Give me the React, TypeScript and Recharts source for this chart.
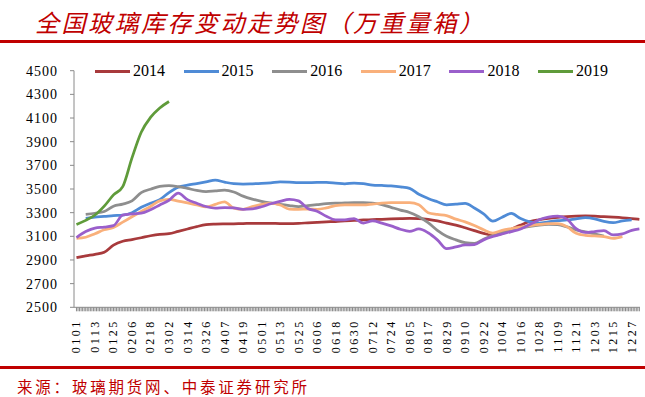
import { LineChart, Line, XAxis, YAxis } from "recharts";

// x positions: day of year, every 6 days plus year end
const days = [
    0, 6, 12, 18, 24, 30, 36, 42, 48, 54,
    60, 66, 72, 78, 84, 90, 96, 102, 108, 114,
    120, 126, 132, 138, 144, 150, 156, 162, 168, 174,
    180, 186, 192, 198, 204, 210, 216, 222, 228, 234,
    240, 246, 252, 258, 264, 270, 276, 282, 288, 294,
    300, 306, 312, 318, 324, 330, 336, 342, 348, 354,
    360, 365,
];

const tickLabels = [
    "0101", "0113", "0125", "0206", "0218", "0302", "0314", "0326", "0407", "0419",
    "0501", "0513", "0525", "0606", "0618", "0630", "0712", "0724", "0805", "0817",
    "0829", "0910", "0922", "1004", "1016", "1028", "1109", "1121", "1203", "1215",
    "1227",
];

const yTicks = [2500, 2700, 2900, 3100, 3300, 3500, 3700, 3900, 4100, 4300, 4500];

const v2014 = [
    2920, 2935, 2948, 2965, 3025, 3058, 3072, 3088, 3105, 3117,
    3122, 3142, 3162, 3182, 3198, 3203, 3205, 3206, 3208, 3209,
    3210, 3210, 3208, 3208, 3210, 3214, 3218, 3222, 3225, 3230,
    3234, 3238, 3241, 3244, 3247, 3250, 3252, 3250, 3243, 3230,
    3212, 3195, 3172, 3148, 3125, 3108, 3125, 3160, 3195, 3225,
    3240, 3252, 3260, 3266, 3270, 3272, 3270, 3266, 3262, 3257,
    3250, 3243,
];

const v2015 = [
    null, 3252, 3262, 3268, 3275, 3280, 3300, 3345, 3380, 3410,
    3470, 3515, 3533, 3546, 3560, 3575, 3558, 3545, 3542, 3544,
    3547, 3552, 3560, 3558, 3553, 3554, 3556, 3555, 3550, 3544,
    3550, 3545, 3533, 3530, 3526, 3518, 3505, 3455, 3420, 3392,
    3366, 3372, 3378, 3340, 3290, 3228, 3262, 3293, 3250, 3222,
    3212, 3222, 3232, 3238, 3248, 3257, 3248, 3226, 3215, 3230,
    3238, null,
];

const v2016 = [
    null, 3286, 3295, 3310, 3355, 3372, 3400, 3470, 3498, 3522,
    3528, 3520, 3505, 3488, 3478, 3484, 3490, 3475, 3440, 3415,
    3396, 3382, 3370, 3360, 3352, 3360, 3368, 3376, 3380, 3382,
    3384, 3384, 3380, 3368, 3345, 3322, 3302, 3265, 3215, 3150,
    3100, 3070, 3046, 3040, 3075, 3108, 3132, 3150, 3168, 3183,
    3195, 3201, 3198, 3180, 3155, 3138, 3122, 3103, null, null,
    null, null,
];

const v2017 = [
    3083, 3092, 3122, 3155, 3175, 3220, 3265, 3310, 3352, 3400,
    3413, 3398, 3383, 3365, 3348, 3370, 3392, 3338, 3328, 3352,
    3370, 3378, 3365, 3330, 3328, 3330, 3328, 3340, 3360, 3365,
    3365, 3365, 3372, 3380, 3384, 3384, 3384, 3367, 3300, 3285,
    3275, 3245, 3222, 3192, 3155, 3128, 3150, 3165, 3178, 3190,
    3200, 3207, 3208, 3182, 3125, 3108, 3103, 3098, 3083, 3098,
    null, null,
];

const v2018 = [
    3090, 3140, 3170, 3178, 3190, 3280, 3290, 3296, 3325, 3365,
    3405, 3465, 3410, 3380, 3352, 3338, 3342, 3340, 3328, 3332,
    3350, 3375, 3395, 3413, 3400, 3335, 3312, 3270, 3240, 3240,
    3250, 3212, 3230, 3212, 3188, 3160, 3142, 3162, 3130, 3070,
    2995, 3010, 3027, 3030, 3070, 3098, 3120, 3140, 3162, 3200,
    3240, 3262, 3270, 3245, 3165, 3133, 3140, 3148, 3112, 3120,
    3150, 3162,
];

const v2019 = [3200, 3235, 3280, 3355, 3450, 3520, 3763, 3980, 4105, 4185, 4240];

const series = [
    { key: "y2014", name: "2014", color: "#A83A3C", values: v2014 },
    { key: "y2015", name: "2015", color: "#4F8BD6", values: v2015 },
    { key: "y2016", name: "2016", color: "#8E8E8E", values: v2016 },
    { key: "y2017", name: "2017", color: "#F9B07B", values: v2017 },
    { key: "y2018", name: "2018", color: "#9A5FCB", values: v2018 },
    { key: "y2019", name: "2019", color: "#5F9B3A", values: v2019 },
];

const chartData = days.map((d, i) => {
    const row: Record<string, number | null> = { day: d };
    series.forEach((s) => {
        row[s.key] = s.values[i] ?? null;
    });
    return row;
});

// one tick per day, label every 12 days
const dailyTicks = Array.from({ length: 366 }, (_, i) => i);

const serif = '"Liberation Serif", "Times New Roman", serif';
const cjk = '"Noto Sans CJK SC", sans-serif';
const red = "#C00000";

const DayTick = (props: any) => {
    const { x, y, payload } = props;
    const d = payload.value as number;
    if (d % 12 !== 0) return <g />;
    const label = tickLabels[d / 12];
    return (
        <text
            x={x}
            y={y}
            transform={`rotate(-90, ${x}, ${y})`}
            textAnchor="end"
            dominantBaseline="central"
            fontFamily={serif}
            fontSize={12}
            letterSpacing={2.5}
            fill="#000"
        >
            {label}
        </text>
    );
};

export default function App() {
    return (
        <div style={{ position: "absolute", left: 0, top: 0, width: 645, height: 397, background: "#fff", overflow: "hidden" }}>
            <div
                style={{
                    position: "absolute", left: 35, top: 9, lineHeight: "26px",
                    fontFamily: cjk, fontSize: 24, fontStyle: "italic", letterSpacing: 2.5, color: red, whiteSpace: "nowrap",
                }}
            >
                全国玻璃库存变动走势图（万重量箱）
            </div>
            <div style={{ position: "absolute", left: 0, top: 39.5, width: 645, height: 3, background: red }} />

            <LineChart width={645} height={397} data={chartData} margin={{ top: 70.7, right: 5, bottom: 29.7, left: 14 }}>
                <XAxis
                    dataKey="day"
                    type="number"
                    domain={[-1.6, 365.4]}
                    allowDataOverflow
                    ticks={dailyTicks}
                    interval={0}
                    tick={<DayTick />}
                    tickSize={4}
                    tickMargin={8}
                    height={60}
                    stroke="#8A8A8A"
                    tickLine={{ stroke: "#8A8A8A" }}
                />
                <YAxis
                    domain={[2500, 4500]}
                    ticks={yTicks}
                    interval={0}
                    width={60}
                    tickSize={4}
                    tickMargin={12}
                    stroke="#8A8A8A"
                    tick={{ fill: "#000", fontSize: 14, fontFamily: serif, letterSpacing: 1 }}
                />
                {series.map((s) => (
                    <Line
                        key={s.key}
                        dataKey={s.key}
                        name={s.name}
                        type="monotone"
                        stroke={s.color}
                        strokeWidth={2.75}
                        dot={false}
                        activeDot={false}
                        connectNulls={false}
                        isAnimationActive={false}
                    />
                ))}
            </LineChart>

            {/* legend */}
            <div style={{ position: "absolute", left: 95, top: 62, display: "flex" }}>
                {series.map((s) => (
                    <div key={s.key} style={{ width: 88.6, display: "flex", alignItems: "center", height: 18 }}>
                        <div style={{ width: 35, height: 3, background: s.color, marginRight: 3 }} />
                        <span style={{ fontFamily: serif, fontSize: 16, color: "#000", lineHeight: "18px" }}>{s.name}</span>
                    </div>
                ))}
            </div>

            <div style={{ position: "absolute", left: 0, top: 366, width: 645, height: 2.5, background: red }} />
            <div
                style={{
                    position: "absolute", left: 17, top: 377, lineHeight: "18px",
                    fontFamily: cjk, fontSize: 15.5, letterSpacing: 2.8, color: red, whiteSpace: "nowrap",
                }}
            >
                来源：玻璃期货网、中泰证券研究所
            </div>
        </div>
    );
}
